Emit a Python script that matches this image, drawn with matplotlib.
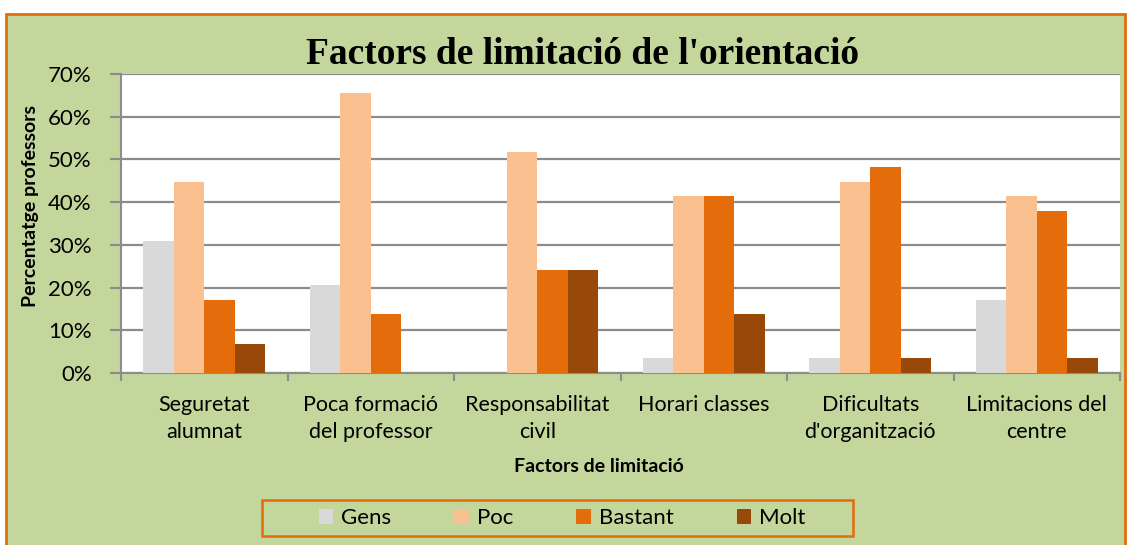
import matplotlib.pyplot as plt
from matplotlib.patches import Rectangle
import numpy as np

categories = ['Seguretat\nalumnat', 'Poca formació\ndel professor', 'Responsabilitat\ncivil',
              'Horari classes', 'Dificultats\nd\'organització', 'Limitacions del\ncentre']
series = ['Gens', 'Poc', 'Bastant', 'Molt']
gens = [31.0, 20.7, 0.0, 3.4, 3.4, 17.2]
poc = [44.8, 65.5, 51.7, 41.4, 44.8, 41.4]
bastant = [17.2, 13.8, 24.1, 41.4, 48.3, 37.9]
molt = [6.9, 0.0, 24.1, 13.8, 3.4, 3.4]
colors = ['#D9D9D9', '#FAC090', '#E46C0A', '#984807']
yticks = [0, 10, 20, 30, 40, 50, 60, 70]

W, H = 1129, 545
fig = plt.figure(figsize=(W / 100, H / 100), dpi=100)
fig.patch.set_facecolor('white')
fig.patches.append(Rectangle((6 / W, -0.05), 1119 / W, 1.05 - 14 / H, transform=fig.transFigure,
                             facecolor='#C3D69B', edgecolor='#E46C0A', linewidth=2, zorder=-10))
# legend frame
fig.patches.append(Rectangle((262 / W, 1 - 536 / H), 591 / W, 36 / H, transform=fig.transFigure,
                             facecolor='none', edgecolor='#E46C0A', linewidth=1.8, zorder=-5))

ax = fig.add_axes([121 / W, 1 - 373 / H, 999 / W, 299 / H])
ax.set_facecolor('white')
x = np.arange(len(categories))
bw = 0.183
for i, (vals, c, name) in enumerate(zip([gens, poc, bastant, molt], colors, series)):
    ax.bar(x + (i - 1.5) * bw, vals, bw, color=c, label=name, zorder=3)

ax.set_xlim(-0.5, len(categories) - 0.5)
ax.set_ylim(0, 70)
ax.set_yticks(yticks)
ax.set_yticklabels([f'{v}%' for v in yticks], fontsize=16, family='Lato')
ax.yaxis.grid(True, color='#8C8C8C', linewidth=1.6, zorder=1)
ax.set_xticks(np.arange(len(categories) + 1) - 0.5)
ax.set_xticklabels([])
ax.set_xticks(x, minor=True)
ax.set_xticklabels(categories, minor=True, fontsize=15.5, family='Lato', linespacing=1.45)
ax.tick_params(axis='x', which='minor', length=0, pad=16)
ax.tick_params(axis='x', which='major', length=6, color='#8C8C8C', width=1.5)
ax.tick_params(axis='y', length=8, color='#8C8C8C', width=1.5, pad=13)
for s in ['top', 'right']:
    ax.spines[s].set_visible(False)
for s in ['left', 'bottom']:
    ax.spines[s].set_color('#8C8C8C')
    ax.spines[s].set_linewidth(1.5)

fig.text(599 / W, 1 - 467 / H, 'Factors de limitació', ha='center', va='center',
         fontsize=14, fontweight='bold', family='Lato')
fig.text(31 / W, 1 - 206 / H, 'Percentatge professors', ha='center', va='center', rotation=90,
         fontsize=14, fontweight='bold', family='Lato')
fig.text(582 / W, 1 - 54 / H, "Factors de limitació de l'orientació", ha='center', va='center',
         fontsize=27, fontweight='bold', family='Liberation Serif')

leg = fig.legend(loc='center', bbox_to_anchor=(562 / W, 1 - 518 / H), ncol=4, frameon=False,
                 prop={'family': 'Lato', 'size': 16}, handlelength=0.65, handleheight=0.65,
                 columnspacing=2.85, handletextpad=0.35)

fig.savefig('out.png', dpi=100)
